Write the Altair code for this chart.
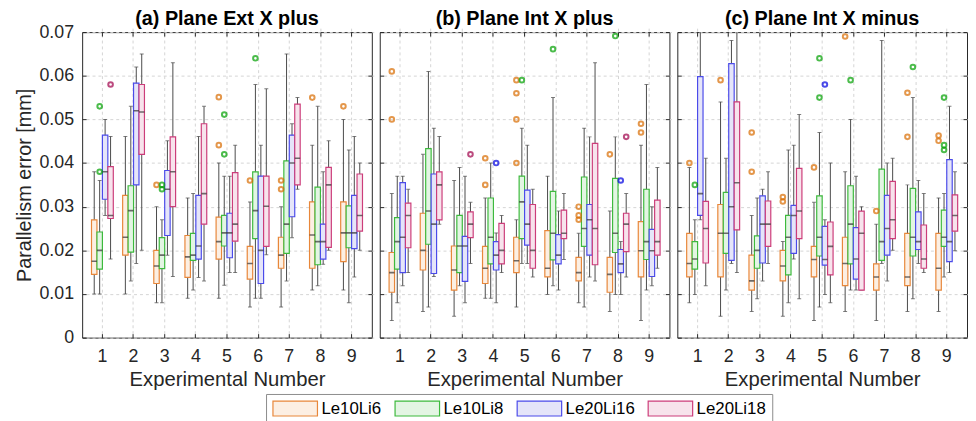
import altair as alt
import pandas as pd

GROUPS = ["Le10Li6", "Le10Li8", "Le20Li16", "Le20Li18"]
EXPERIMENTS = [1, 2, 3, 4, 5, 6, 7, 8, 9]
PANELS = ["(a) Plane Ext X plus", "(b) Plane Int X plus", "(c) Plane Int X minus"]
Y_TICKS = [0, 0.01, 0.02, 0.03, 0.04, 0.05, 0.06, 0.07]

FILL_COLORS = ["#fcefe3", "#e3f5e3", "#e5e5f9", "#f7e3ec"]
STROKE_COLORS = ["#e8873a", "#3dba3d", "#4b4bea", "#cc3d7a"]
OUTLIER_COLORS = ["#d96c00", "#00a000", "#0000e0", "#a0004a"]
WHISKER = "#4a4a4a"
FONT = "Liberation Sans"

# Box statistics in micrometres (0.001 mm), one tuple per experiment 1..9:
# (lower whisker, Q1, median, Q3, upper whisker)
a_le10li6 = [(10, 14.5, 17.5, 27, 38), (10, 18.9, 23, 32.6, 46.1), (8, 12.4, 16.4, 20, 30),
             (9, 13.8, 18.5, 23.4, 32), (9, 18, 22, 27.6, 40), (7, 13.4, 17, 20.9, 31.1),
             (7, 15.9, 18.9, 23, 30), (10.9, 15.9, 23.5, 31.1, 44.1), (10.9, 17.4, 24, 31.1, 50)]
a_le10li8 = [(10, 15.7, 20, 24.2, 36), (13, 19.6, 29.1, 34.8, 53), (8, 15.8, 18.9, 22.9, 27),
             (10.9, 17.7, 18.9, 23.9, 33), (12, 21, 24, 28, 37), (9, 22.7, 29.1, 38, 58),
             (13, 19.3, 26, 40.5, 65), (11.9, 16.7, 22, 34.5, 53), (8, 20.6, 24, 30.2, 43)]
a_le20li16 = [(28, 31.7, 38, 46.4, 50), (17, 35, 52, 58.3, 62), (18.9, 23.4, 34, 38.3, 45.1),
              (13.8, 18, 21, 32.6, 46.1), (14.9, 18.3, 24, 28.5, 37), (9, 12.4, 20, 37, 44.1),
              (22.9, 27.7, 40, 46.4, 49), (16.8, 18, 22, 26, 38), (13.9, 20.4, 24, 32.6, 46.1)]
a_le20li18 = [(18, 27.3, 28, 39.2, 46.1), (20, 42, 51.7, 58, 65), (14, 30, 38, 46, 63),
              (13, 26, 33, 49, 53), (14.9, 22.1, 26, 37.8, 44.1), (19, 20.9, 30.1, 37, 57),
              (34, 35, 41.1, 53.5, 55), (20, 20.7, 35, 39, 45.1), (20, 24.4, 28, 37.5, 40)]

b_le10li6 = [(3.9, 10.4, 14.9, 19.5, 33), (6, 15.5, 20, 28.5, 42), (4.9, 10.9, 15.5, 21, 36),
             (9, 12.4, 15.9, 20.9, 32), (7, 14.9, 17.6, 23, 27), (9.9, 13.9, 15.9, 24.5, 37),
             (8, 13, 14.9, 18.4, 23.9), (6, 10.4, 14.5, 18.4, 29), (3.9, 13.9, 19.9, 26.6, 44.1)]
b_le10li8 = [(8, 15.7, 22, 27.5, 37), (7, 21.4, 29, 43.3, 61), (11.9, 14.9, 21, 28, 39),
             (9, 16.9, 23, 32, 40), (17, 22.7, 31.1, 37, 48), (11.9, 17.8, 23.9, 33.5, 55),
             (7, 20.9, 25, 36.8, 48), (9.9, 19.5, 23.9, 36.5, 46), (10.9, 17.9, 22, 34, 58)]
b_le20li16 = [(11.9, 14.9, 23, 35.5, 37), (14, 14.7, 26, 37.5, 48), (8, 12.9, 21, 23.2, 37),
              (8, 15.5, 18.9, 22, 24), (17, 21.2, 26, 33.8, 44.1), (10.9, 16.9, 18.9, 23.6, 29),
              (13.9, 18.9, 27, 30.5, 46), (9.9, 14.9, 16.9, 20.2, 22), (11.9, 14, 19.9, 24.8, 30)]
b_le20li18 = [(14.9, 20.6, 28, 30.8, 34), (26, 27, 35, 38, 46.1), (17, 22.9, 26, 28.8, 31),
              (14.9, 16.9, 20, 26.2, 28), (13.9, 15.9, 20, 30.5, 34), (17.9, 22.7, 23.9, 29.2, 33),
              (13, 16.7, 25, 44.5, 63), (13.9, 19.7, 26, 28.5, 33), (15.9, 18.9, 22, 31.5, 39)]

c_le10li6 = [(8, 13.9, 17, 23.9, 39), (4.9, 13.9, 23.9, 30.5, 54), (6, 10.9, 13, 18.9, 28),
             (4.9, 13, 16.4, 20, 22), (3.9, 13.9, 17.9, 20.9, 31), (6, 11.9, 17, 23, 38),
             (3.9, 10.9, 13.9, 16.9, 26), (6, 11.9, 13.9, 23.9, 35), (6, 10.9, 15.9, 23.9, 32)]
c_le10li8 = [(9.9, 15.7, 18, 22, 27), (10.9, 19.3, 23.9, 33.3, 41.1), (8.9, 15.9, 20, 23.3, 32),
             (8, 14.4, 23, 28, 43), (7, 18.7, 23, 32.5, 47), (10.9, 16.9, 26, 34.8, 50),
             (17, 17.7, 22, 38.6, 68.1), (8.9, 18.7, 23, 34.2, 55), (13.9, 20.9, 23, 29.2, 33)]
c_le20li16 = [(27, 28, 33, 59.8, 75), (17, 17.7, 30, 62.8, 68.1), (13, 17.1, 26, 32.5, 34),
              (18, 19.3, 28, 30.3, 44.1), (9.9, 16.6, 17.9, 25.5, 27), (10.9, 13.4, 18, 25.2, 37),
              (13, 18.9, 25, 32.6, 40), (17, 20.2, 22, 28.8, 36), (14.9, 17.4, 22, 40.8, 53)]
c_le20li18 = [(11.9, 17.1, 25, 31.2, 41.1), (14.9, 24.7, 35.5, 54, 75), (17, 20.9, 26, 31.3, 38),
              (8.9, 22.7, 29, 38.8, 51.1), (8, 14.4, 20.9, 26.5, 40), (10.9, 10.9, 23.9, 29, 30),
              (20, 22.7, 27, 35.8, 41.1), (14.9, 15.9, 18, 25.8, 33), (19.9, 24.4, 28, 32.7, 38)]

# Outliers in micrometres: {experiment: [values]}
a_le10li6_out = {3: [35], 5: [55.1, 44.1], 6: [36], 7: [36, 34], 8: [55], 9: [53]}
a_le10li8_out = {1: [53, 38], 3: [35, 34], 5: [51.1, 42], 6: [64]}
a_le20li16_out = {}
a_le20li18_out = {1: [58]}
b_le10li6_out = {1: [61, 50], 4: [41.1, 35], 5: [59, 56, 50, 40], 7: [30, 28, 27], 8: [42], 9: [49, 47]}
b_le10li8_out = {5: [59], 6: [66.1], 8: [69.1]}
b_le20li16_out = {4: [40], 8: [36]}
b_le20li18_out = {3: [42], 8: [46]}
c_le10li6_out = {1: [40], 2: [59], 3: [47, 38], 4: [32.2, 31.2], 5: [39], 6: [69], 7: [29],
                 8: [56.1, 46], 9: [46.3, 45.1]}
c_le10li8_out = {1: [35], 5: [64, 55], 6: [59], 8: [62], 9: [55, 44.1, 43]}
c_le20li16_out = {5: [58]}
c_le20li18_out = {}

BOX = {
    PANELS[0]: [a_le10li6, a_le10li8, a_le20li16, a_le20li18],
    PANELS[1]: [b_le10li6, b_le10li8, b_le20li16, b_le20li18],
    PANELS[2]: [c_le10li6, c_le10li8, c_le20li16, c_le20li18],
}
OUT = {
    PANELS[0]: [a_le10li6_out, a_le10li8_out, a_le20li16_out, a_le20li18_out],
    PANELS[1]: [b_le10li6_out, b_le10li8_out, b_le20li16_out, b_le20li18_out],
    PANELS[2]: [c_le10li6_out, c_le10li8_out, c_le20li16_out, c_le20li18_out],
}

UM = 1e-3  # micrometre -> millimetre
box_rows, out_rows = [], []
for p in PANELS:
    for g, stats, outs in zip(GROUPS, BOX[p], OUT[p]):
        for e, (lo, q1, md, q3, hi) in zip(EXPERIMENTS, stats):
            box_rows.append(dict(panel=p, exp=e, group=g, lo=lo * UM, q1=q1 * UM,
                                 med=md * UM, q3=q3 * UM, hi=hi * UM))
        for e, vals in outs.items():
            for v in vals:
                out_rows.append(dict(panel=p, exp=e, group=g, v=v * UM))
box_df = pd.DataFrame(box_rows)
out_df = pd.DataFrame(out_rows)

PANEL_W, PANEL_H = 293, 309

legend = alt.Legend(
    title=None, orient="none", legendX=186, legendY=366, direction="horizontal",
    symbolType="M-1,-1L5,-1L5,1L-1,1Z", symbolSize=225, symbolStrokeWidth=1.2,
    labelOffset=33, labelFontSize=17, labelFont=FONT, labelColor="#000000",
    columnPadding=10.5, padding=6, strokeColor="#8c8c8c", fillColor="#ffffff",
)


def panel(i, title):
    first = i == 0
    xsc = alt.Scale(domain=EXPERIMENTS, paddingInner=0.3, paddingOuter=0.3)
    ysc = alt.Scale(domain=[0, 0.07], nice=False, zero=True)
    # main axes (bottom / left) with grid and labels
    x_main = alt.X("exp:O", scale=xsc, axis=alt.Axis(title="Experimental Number", labelAngle=0, grid=True))
    if first:
        y_ax = alt.Axis(values=Y_TICKS, format=".2~f", title="Parallelism error [mm]", grid=True)
    else:
        # same labels kept invisible inside the plot so that all panels share one layout
        y_ax = alt.Axis(values=Y_TICKS, format=".2~f", title=None, grid=True,
                        labelOpacity=0, labelPadding=-40)
    # mirrored inner ticks (top / right), no labels
    x_top = alt.X("exp:O", scale=xsc, axis=alt.Axis(orient="top", labels=False, grid=False, title=None))
    y_right = alt.Axis(values=Y_TICKS, orient="right", labels=False, grid=False, title=None)

    xo = alt.XOffset("group:N", scale=alt.Scale(domain=GROUPS))
    x_none = alt.X("exp:O", scale=xsc, axis=None)
    base = alt.Chart(box_df).transform_filter(alt.datum.panel == title)

    whisk = base.mark_rule(color=WHISKER, strokeWidth=1, clip=True).encode(
        x=x_main, xOffset=xo, y=alt.Y("lo:Q", scale=ysc, axis=y_ax), y2="hi:Q")
    caps = base.transform_fold(["lo", "hi"], as_=["end", "val"]).mark_tick(
        color=WHISKER, size=4, thickness=1, clip=True).encode(
        x=x_top, xOffset=xo, y=alt.Y("val:Q", scale=ysc, axis=y_right))
    bars = base.mark_bar(strokeWidth=1.2, clip=True).encode(
        x=x_none, xOffset=xo, y=alt.Y("q1:Q", scale=ysc, axis=None), y2="q3:Q",
        fill=alt.Fill("group:N", scale=alt.Scale(domain=GROUPS, range=FILL_COLORS), legend=legend),
        stroke=alt.Stroke("group:N", scale=alt.Scale(domain=GROUPS, range=STROKE_COLORS), legend=legend),
    )
    med = base.mark_tick(color="#333333", size=5.5, thickness=1.6, clip=True).encode(
        x=x_none, xOffset=xo, y=alt.Y("med:Q", scale=ysc, axis=None))
    outl = alt.Chart(out_df).transform_filter(alt.datum.panel == title).mark_point(
        shape="circle", filled=False, strokeWidth=2, size=22, clip=True).encode(
        x=x_none, xOffset=xo, y=alt.Y("v:Q", scale=ysc, axis=None),
        color=alt.Color("group:N", scale=alt.Scale(domain=GROUPS, range=OUTLIER_COLORS), legend=None),
    )
    return alt.layer(whisk, caps, bars, med, outl).resolve_axis(
        x="independent", y="independent"
    ).properties(width=PANEL_W, height=PANEL_H, title=title)


chart = alt.hconcat(*[panel(i, t) for i, t in enumerate(PANELS)], spacing=6).resolve_scale(
    fill="shared", stroke="shared", color="shared"
).properties(
    padding={"top": -2, "left": 5, "right": 0, "bottom": 0}, background="#ffffff"
).configure_view(
    stroke="#262626", strokeWidth=1, fill="#ffffff"
).configure_axis(
    labelFont=FONT, labelFontSize=18, labelColor="#262626",
    titleFont=FONT, titleFontSize=20, titleFontWeight="normal", titleColor="#262626",
    gridColor="#d4d4d4", gridDash=[3, 3], gridWidth=1,
    domain=False, tickColor="#262626", tickSize=4, offset=-4,
).configure_axisX(labelPadding=10, titlePadding=4, titleFontSize=20.5).configure_axisY(
    labelPadding=8.7, titlePadding=5
).configure_title(
    font=FONT, fontSize=20, fontWeight="bold", color="#000000", offset=-6,
)

chart.save("out.html", embed_options={"renderer": "svg", "actions": False})
